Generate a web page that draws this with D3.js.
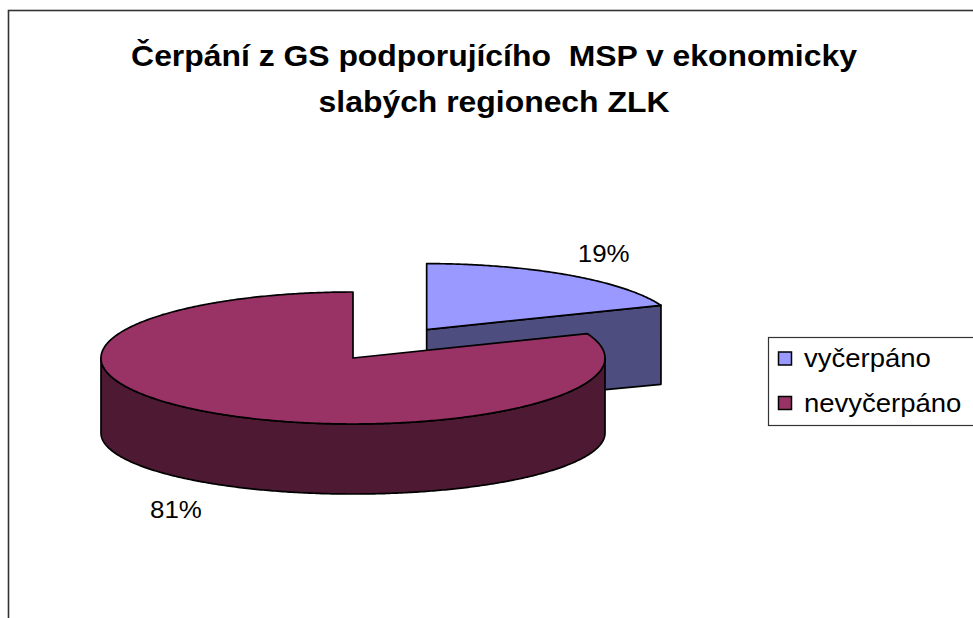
<!DOCTYPE html>
<html>
<head>
<meta charset="utf-8">
<script src="https://cdn.jsdelivr.net/npm/d3@7/dist/d3.min.js"></script>
<style>
  html, body { margin: 0; padding: 0; background: #fff; }
  svg { display: block; }
  text { font-family: "Liberation Sans", Arial, sans-serif; fill: #000; white-space: pre; }
</style>
</head>
<body>
<svg id="chart"></svg>
<script>
// data
const categories = ["vyčerpáno", "nevyčerpáno"];
const values = [19, 81];
const pctLabels = ["19%", "81%"];
const explodeBy = [0.52, 0];
const topColors = ["#9999FF", "#993366"];
const sideColors = ["#4D4D80", "#4D1933"];
const titleLines = ["Čerpání z GS podporujícího  MSP v ekonomicky", "slabých regionech ZLK"];

const width = 973, height = 618;
const svg = d3.select('#chart').attr('width', width).attr('height', height);

// chart area border (runs off the right and bottom)
svg.append('rect')
   .attr('x', 8.5).attr('y', 10.5)
   .attr('width', 1100).attr('height', 800)
   .attr('fill', 'none')
   .attr('stroke', '#333')
   .attr('stroke-width', 1.6);

// title, text in the original is a bit stretched horizontally
svg.append('g').selectAll('text')
   .data(titleLines)
   .enter()
   .append('text')
   .attr('xml:space', 'preserve')
   .attr('transform', (d, i) => `translate(494, ${66 + i * 46}) scale(1.1,1)`)
   .attr('text-anchor', 'middle')
   .style('font-weight', 'bold')
   .style('font-size', '29px')
   .text(d => d);

// 3d pie geometry
const cx = 353, rx = 252;
const topCy = 358, topRy = 66;
const botCy = 433, botRy = 61;

function proj(u, v, z) {
  const cy = topCy + (botCy - topCy) * z;
  const ry = topRy + (botRy - topRy) * z;
  return [cx + rx * u, cy - ry * v];
}

const pie = d3.pie().sort(null).startAngle(0).endAngle(2 * Math.PI);
const arcs = pie(values).map((d, i) => {
  const mid = (d.startAngle + d.endAngle) / 2;
  return {
    i: i,
    a0: d.startAngle,
    a1: d.endAngle,
    mid: mid,
    ou: explodeBy[i] * Math.sin(mid),
    ov: explodeBy[i] * Math.cos(mid)
  };
});

function rim(s, a, z) {
  return proj(s.ou + Math.sin(a), s.ov + Math.cos(a), z);
}
function arcPoints(s, a0, a1, z) {
  const n = Math.max(2, Math.ceil(Math.abs(a1 - a0) / 0.01));
  return d3.range(n + 1).map(k => rim(s, a0 + (a1 - a0) * k / n, z));
}

const line = d3.line();
const pieG = svg.append('g')
  .attr('stroke', '#000')
  .attr('stroke-width', 1.7)
  .attr('stroke-linejoin', 'round');

// far slices first
arcs.slice().sort((a, b) => b.ov - a.ov).forEach(s => {
  const apexTop = proj(s.ou, s.ov, 0);
  const apexBot = proj(s.ou, s.ov, 1);

  // radial cut faces
  [[s.a0, s.a0 - Math.PI / 2], [s.a1, s.a1 + Math.PI / 2]].forEach(([a, n]) => {
    if (Math.cos(n) < -1e-6) {
      pieG.append('path')
        .attr('d', line([apexTop, rim(s, a, 0), rim(s, a, 1), apexBot]) + 'Z')
        .attr('fill', sideColors[s.i]);
    }
  });

  // outer wall, front half only
  const w0 = Math.max(s.a0, Math.PI / 2), w1 = Math.min(s.a1, 3 * Math.PI / 2);
  if (w1 > w0) {
    const pts = arcPoints(s, w0, w1, 0).concat(arcPoints(s, w1, w0, 1));
    pieG.append('path')
      .attr('d', line(pts) + 'Z')
      .attr('fill', sideColors[s.i]);
  }

  // top
  pieG.append('path')
    .attr('d', line([apexTop].concat(arcPoints(s, s.a0, s.a1, 0))) + 'Z')
    .attr('fill', topColors[s.i]);
});

// percentage labels
svg.append('g').selectAll('text')
   .data(arcs)
   .enter()
   .append('text')
   .attr('transform', s => {
     const front = Math.cos(s.mid) < 0;
     const x = cx + rx * (s.ou + 1.25 * Math.sin(s.mid));
     const y = front
       ? botCy - botRy * (s.ov + 1.45 * Math.cos(s.mid))
       : topCy - topRy * (s.ov + 1.45 * Math.cos(s.mid));
     return `translate(${x}, ${y + 12}) scale(1.08,1)`;
   })
   .attr('text-anchor', 'middle')
   .style('font-size', '24px')
   .text(s => pctLabels[s.i]);

// legend
const legend = svg.append('g').attr('transform', 'translate(768.5, 337.5)');
legend.append('rect')
   .attr('width', 240).attr('height', 88)
   .attr('fill', '#fff')
   .attr('stroke', '#333')
   .attr('stroke-width', 1.2);

const items = legend.selectAll('.item')
   .data(categories)
   .enter()
   .append('g')
   .attr('class', 'item')
   .attr('transform', (d, i) => `translate(0, ${i * 44.5})`);

items.append('rect')
   .attr('x', 10).attr('y', 14.5)
   .attr('width', 13).attr('height', 13)
   .attr('fill', (d, i) => topColors[i])
   .attr('stroke', '#000')
   .attr('stroke-width', 1.5);

items.append('text')
   .attr('transform', 'translate(35.5, 29.5) scale(1.1,1)')
   .style('font-size', '25px')
   .text(d => d);
</script>
</body>
</html>
